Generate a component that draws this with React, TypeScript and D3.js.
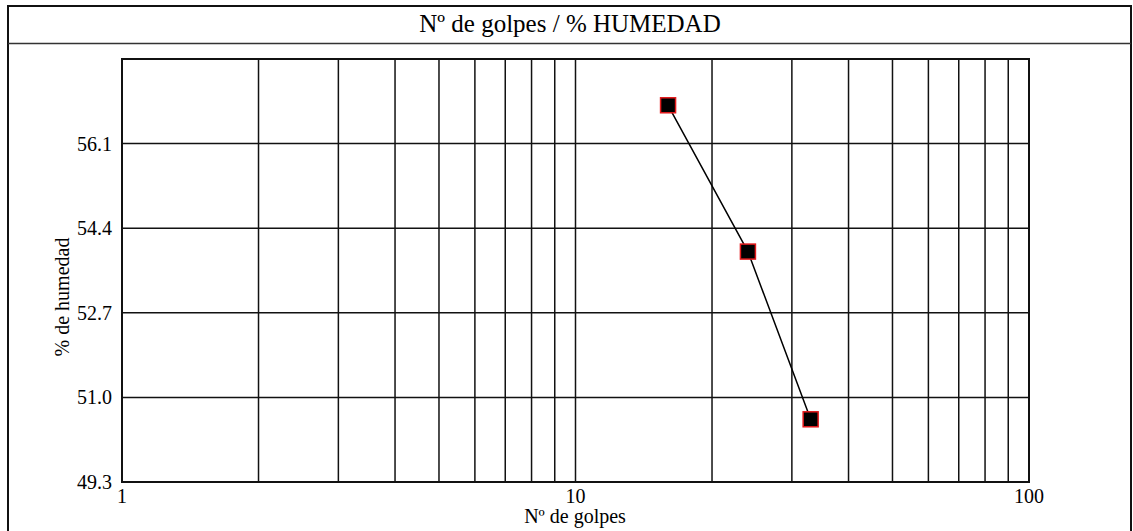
import * as d3 from "d3";
import React, { useEffect, useRef } from "react";

const golpes = [16, 24, 33];
const humedad = [56.87, 53.93, 50.56];
const yTicks = [49.3, 51.0, 52.7, 54.4, 56.1];
const xTicks = [1, 10, 100];
const xGrid = [1, 2, 3, 4, 5, 6, 7, 8, 9, 10, 20, 30, 40, 50, 60, 70, 80, 90, 100];

export default function App() {
  const ref = useRef<SVGSVGElement>(null);

  useEffect(() => {
    const width = 1133,
      height = 531;
    const left = 122,
      right = 1029,
      top = 59,
      bottom = 482;
    const font = "Liberation Serif, DejaVu Serif, serif";

    const svg = d3.select(ref.current);
    svg.selectAll("*").remove();

    const x = d3.scaleLog().domain([1, 100]).range([left, right]);
    const y = d3.scaleLinear().domain([49.3, 57.8]).range([bottom, top]);

    // outer frame + title box
    svg.append("rect")
      .attr("x", 8).attr("y", 6)
      .attr("width", 1123).attr("height", 540)
      .attr("fill", "white")
      .attr("stroke", "#111").attr("stroke-width", 2);
    svg.append("line")
      .attr("x1", 8).attr("x2", 1131)
      .attr("y1", 43.5).attr("y2", 43.5)
      .attr("stroke", "#333").attr("stroke-width", 1.5);
    svg.append("text")
      .attr("x", 570).attr("y", 32)
      .attr("text-anchor", "middle")
      .attr("font-family", font).attr("font-size", 25)
      .text("Nº de golpes / % HUMEDAD");

    // grid
    svg.append("g")
      .selectAll("line")
      .data(xGrid)
      .join("line")
      .attr("x1", (d) => x(d)).attr("x2", (d) => x(d))
      .attr("y1", top).attr("y2", bottom)
      .attr("stroke", "#111").attr("stroke-width", 1.5);
    svg.append("g")
      .selectAll("line")
      .data(yTicks)
      .join("line")
      .attr("x1", left).attr("x2", right)
      .attr("y1", (d) => y(d)).attr("y2", (d) => y(d))
      .attr("stroke", "#111").attr("stroke-width", 1.5);
    svg.append("rect")
      .attr("x", left).attr("y", top)
      .attr("width", right - left).attr("height", bottom - top)
      .attr("fill", "none")
      .attr("stroke", "#111").attr("stroke-width", 2);

    // tick labels
    svg.append("g")
      .selectAll("text")
      .data(yTicks)
      .join("text")
      .attr("x", left - 10).attr("y", (d) => y(d))
      .attr("dy", "0.35em")
      .attr("text-anchor", "end")
      .attr("font-family", font).attr("font-size", 20)
      .text((d) => d.toFixed(1));
    svg.append("g")
      .selectAll("text")
      .data(xTicks)
      .join("text")
      .attr("x", (d) => x(d)).attr("y", bottom + 21)
      .attr("text-anchor", "middle")
      .attr("font-family", font).attr("font-size", 20)
      .text((d) => String(d));

    // axis titles
    svg.append("text")
      .attr("x", 575).attr("y", 523)
      .attr("text-anchor", "middle")
      .attr("font-family", font).attr("font-size", 20)
      .text("Nº de golpes");
    svg.append("text")
      .attr("transform", `translate(69, 297) rotate(-90)`)
      .attr("text-anchor", "middle")
      .attr("font-family", font).attr("font-size", 20)
      .text("% de humedad");

    // series
    const pts = golpes.map((g, i) => [g, humedad[i]] as [number, number]);
    svg.append("path")
      .datum(pts)
      .attr("d", d3.line<[number, number]>().x((d) => x(d[0])).y((d) => y(d[1])))
      .attr("fill", "none")
      .attr("stroke", "black").attr("stroke-width", 1.5);
    svg.append("g")
      .selectAll("rect")
      .data(pts)
      .join("rect")
      .attr("x", (d) => x(d[0]) - 7.5).attr("y", (d) => y(d[1]) - 7.5)
      .attr("width", 15).attr("height", 15)
      .attr("fill", "black")
      .attr("stroke", "#e31a1c").attr("stroke-width", 1.5);

    svg.attr("width", width).attr("height", height);
  }, []);

  return (
    <svg
      ref={ref}
      width={1133}
      height={531}
      style={{ position: "absolute", left: 0, top: 0, display: "block" }}
    />
  );
}
